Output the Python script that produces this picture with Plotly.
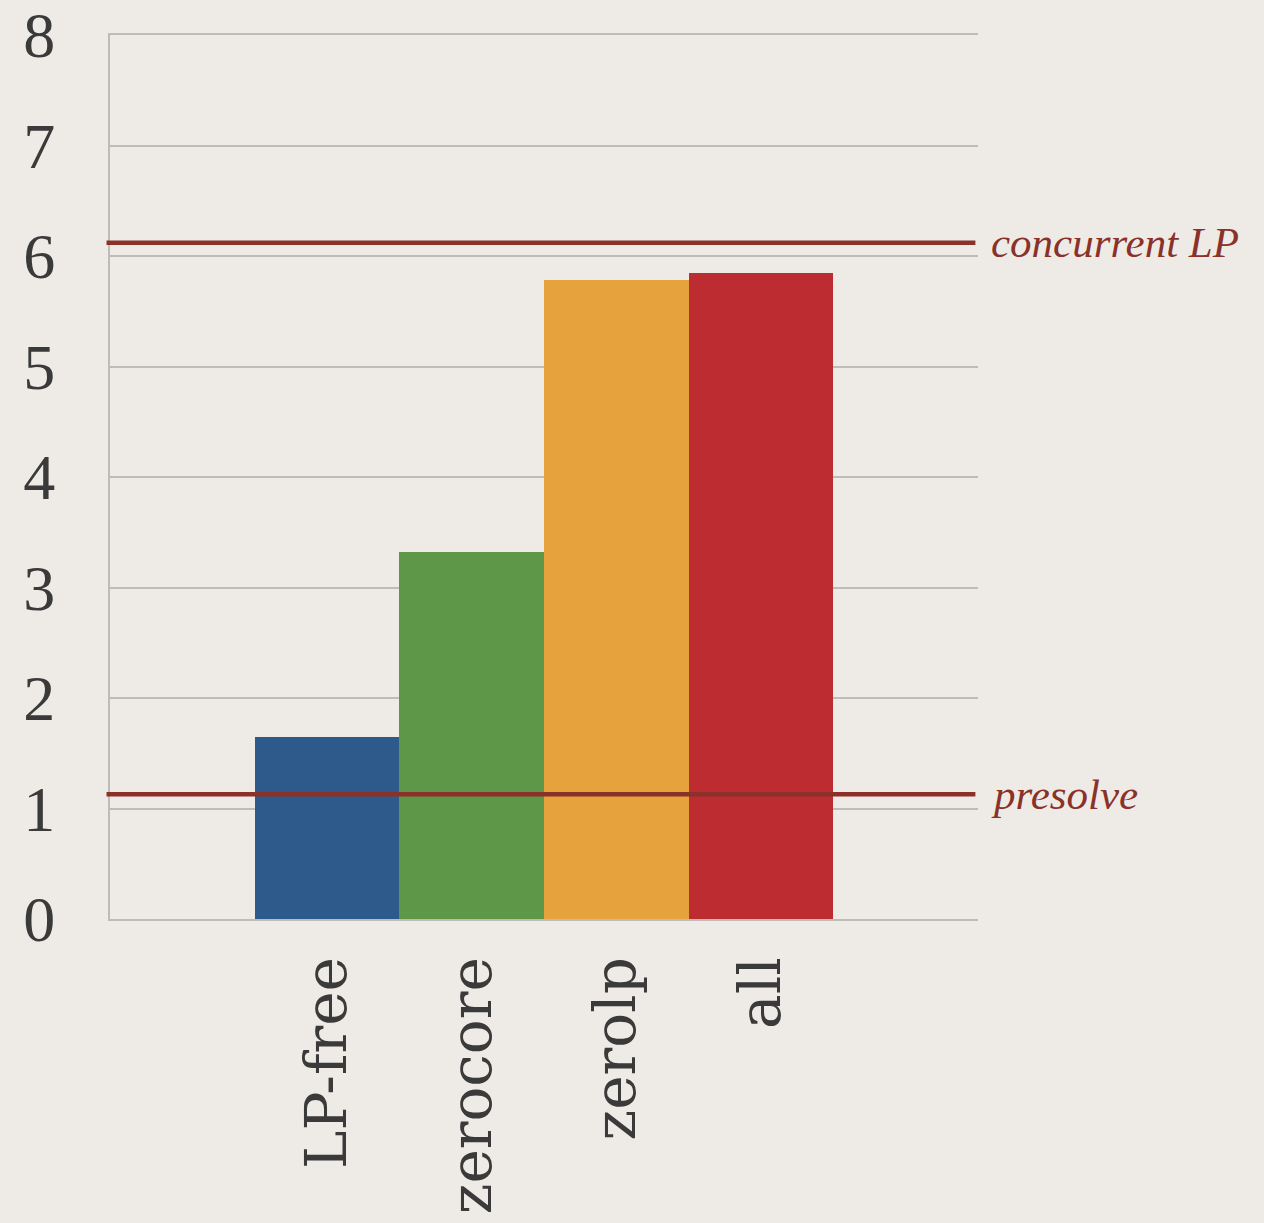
import plotly.graph_objects as go

categories = ["LP-free", "zerocore", "zerolp", "all"]
positions = [1, 2, 3, 4]
values = [1.65, 3.32, 5.78, 5.85]
bar_colors = ["#2e5a8b", "#5d9747", "#e6a23d", "#bc2c31"]
ref_names = ["concurrent LP", "presolve"]
ref_values = [6.12, 1.13]
y_ticks = [0, 1, 2, 3, 4, 5, 6, 7, 8]

BG = "#eeebe6"
GRID = "#bdbcbb"
LINE = "#8a3129"

fig = go.Figure()
fig.add_trace(go.Bar(
    x=positions, y=values, width=1.0,
    marker=dict(color=bar_colors, line=dict(width=0)),
    showlegend=False, hoverinfo="skip",
))

for name, v in zip(ref_names, ref_values):
    fig.add_shape(type="line", xref="paper", yref="y", x0=-0.004, x1=0.997,
                  y0=v, y1=v, line=dict(color=LINE, width=4.5), layer="above")
    fig.add_annotation(xref="paper", yref="y", x=1.013, y=v, text=name,
                       showarrow=False, xanchor="left", yanchor="middle",
                       font=dict(family="Liberation Serif", size=43, color=LINE,
                                 style="italic"))

fig.update_layout(
    width=1264, height=1223,
    margin=dict(l=110, r=286, t=35, b=304),
    paper_bgcolor=BG, plot_bgcolor=BG,
    bargap=0,
    xaxis=dict(
        range=[-0.5, 5.5], tickmode="array", tickvals=positions, ticktext=categories,
        tickangle=-90, showgrid=False, zeroline=False, automargin=False,
        showline=True, mirror=True, linecolor=GRID, linewidth=2,
        ticks="outside", ticklen=13, tickcolor="rgba(0,0,0,0)",
        tickfont=dict(family="DejaVu Serif", size=58, color="#3a3a3a"),
    ),
    yaxis=dict(
        range=[0, 8], tickmode="array", tickvals=y_ticks, automargin=False,
        showgrid=True, gridcolor=GRID, gridwidth=2, zeroline=False,
        showline=True, linecolor=GRID, linewidth=2,
        ticks="outside", ticklen=40, tickcolor="rgba(0,0,0,0)",
        tickfont=dict(family="Liberation Serif", size=64, color="#3a3a3a"),
    ),
)

fig.write_html("out.html")
